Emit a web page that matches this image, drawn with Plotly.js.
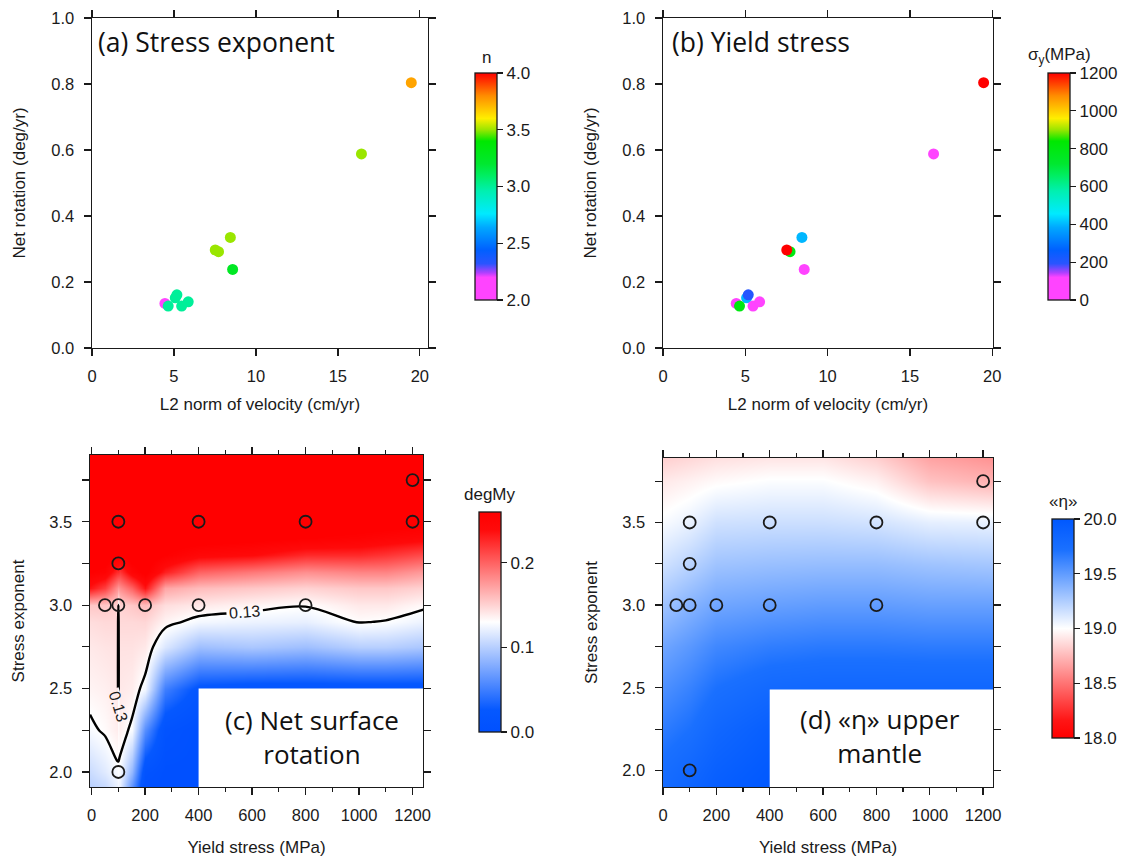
<!DOCTYPE html>
<html>
<head>
<meta charset="utf-8">
<script src="https://cdn.plot.ly/plotly-3.0.1.min.js"></script>
<style>html,body{margin:0;padding:0;background:#fff;}#chart{width:1133px;height:859px;}</style>
</head>
<body>
<div id="chart"></div>
<script>
// ---------- data: simulation runs ----------
const runSigmaY = [400, 100, 800, 50, 100, 200, 100, 800, 1200, 400, 100, 1200];          // yield stress (MPa)
const runN      = [3.0, 2.0, 3.0, 3.0, 3.0, 3.0, 3.25, 3.5, 3.5, 3.5, 3.5, 3.75];         // stress exponent
const runL2     = [5.08, 4.45, 4.65, 5.47, 5.87, 5.18, 8.58, 7.72, 7.52, 8.44, 16.44, 19.48]; // L2 norm of velocity (cm/yr)
const runNetRot = [0.152, 0.135, 0.127, 0.127, 0.140, 0.161, 0.238, 0.292, 0.297, 0.335, 0.588, 0.804]; // net rotation (deg/yr)

// ---------- data: interpolated net surface rotation field (degMy) ----------
const rotGridX = [-6, 50, 95, 100, 105, 150, 200, 275, 400, 600, 800, 1000, 1100, 1240];
const rotGridN = [1.9, 2.0, 2.25, 2.5, 2.75, 2.9, 3.0, 3.1, 3.2, 3.3, 3.4, 3.5, 3.9];
const rotZ = [
  [0.100, 0.105, 0.120, 0.123, 0.118, 0.060, 0.000, 0.000, 0.000, 0.000, 0.000, 0.000, 0.000, 0.000],
  [0.108, 0.117, 0.127, 0.129, 0.126, 0.085, 0.010, 0.000, 0.000, 0.000, 0.000, 0.000, 0.000, 0.000],
  [0.127, 0.132, 0.138, 0.133, 0.137, 0.127, 0.060, 0.010, 0.000, 0.000, 0.000, 0.000, 0.000, 0.000],
  [0.135, 0.137, 0.140, 0.126, 0.140, 0.138, 0.125, 0.050, 0.020, 0.015, 0.015, 0.015, 0.015, 0.015],
  [0.140, 0.142, 0.143, 0.125, 0.143, 0.143, 0.140, 0.115, 0.090, 0.095, 0.090, 0.100, 0.100, 0.095],
  [0.145, 0.147, 0.147, 0.125, 0.147, 0.147, 0.148, 0.135, 0.125, 0.122, 0.120, 0.131, 0.129, 0.122],
  [0.155, 0.155, 0.150, 0.127, 0.150, 0.155, 0.160, 0.145, 0.140, 0.135, 0.131, 0.140, 0.140, 0.133],
  [0.235, 0.215, 0.180, 0.175, 0.180, 0.200, 0.235, 0.170, 0.160, 0.155, 0.150, 0.155, 0.155, 0.150],
  [0.260, 0.255, 0.225, 0.225, 0.220, 0.250, 0.265, 0.230, 0.200, 0.190, 0.180, 0.185, 0.185, 0.175],
  [0.270, 0.270, 0.265, 0.265, 0.260, 0.270, 0.270, 0.260, 0.245, 0.240, 0.225, 0.225, 0.220, 0.210],
  [0.270, 0.270, 0.270, 0.270, 0.270, 0.270, 0.270, 0.270, 0.270, 0.265, 0.260, 0.255, 0.250, 0.245],
  [0.270, 0.270, 0.270, 0.270, 0.270, 0.270, 0.270, 0.270, 0.270, 0.270, 0.270, 0.270, 0.270, 0.265],
  [0.270, 0.270, 0.270, 0.270, 0.270, 0.270, 0.270, 0.270, 0.270, 0.270, 0.270, 0.270, 0.270, 0.270]
];
const rotContourLevel = 0.13;

// ---------- data: interpolated upper-mantle viscosity field (log10) ----------
const etaGridX = [0, 100, 200, 400, 600, 800, 1000, 1240];
const etaGridN = [1.9, 2.0, 2.25, 2.5, 2.75, 3.0, 3.25, 3.5, 3.75, 3.9];
const etaZ = [
  [19.78, 19.85, 19.93, 20.00, 20.00, 20.00, 20.00, 20.00],
  [19.75, 19.82, 19.90, 19.98, 20.00, 20.00, 20.00, 20.00],
  [19.66, 19.72, 19.82, 19.92, 19.95, 19.95, 19.95, 19.95],
  [19.56, 19.63, 19.72, 19.80, 19.82, 19.82, 19.82, 19.82],
  [19.45, 19.52, 19.60, 19.65, 19.67, 19.67, 19.66, 19.66],
  [19.30, 19.38, 19.45, 19.48, 19.50, 19.50, 19.48, 19.48],
  [19.15, 19.22, 19.30, 19.32, 19.33, 19.33, 19.30, 19.28],
  [19.02, 19.07, 19.15, 19.16, 19.16, 19.14, 19.08, 19.07],
  [18.92, 18.95, 18.98, 19.01, 19.01, 18.95, 18.78, 18.72],
  [18.82, 18.85, 18.88, 18.90, 18.90, 18.82, 18.66, 18.60]
];

// ---------- styling ----------
const W = 1133, H = 859;
const px = v => v / W;
const py = v => 1 - v / H;
const FONT = 'Liberation Sans, Arial, Helvetica, sans-serif';
const LABELFONT = 'Open Sans, Liberation Sans, sans-serif';
const INK = '#1a1a1a';

const rainbow = [
  [0.00, '#ff44ff'], [0.10, '#ff44ff'], [0.12, '#b040ff'], [0.16, '#2a55ff'], [0.22, '#0060ff'],
  [0.32, '#00a8ff'], [0.38, '#00eaff'], [0.48, '#00f0b0'], [0.55, '#00ee60'], [0.60, '#00e830'],
  [0.70, '#00e800'], [0.75, '#9ae600'], [0.80, '#ffee00'], [0.90, '#ff8c00'], [1.00, '#ff0000']
];
const blueRed = [[0, '#0050ff'], [0.1, '#0558ff'], [0.5, '#ffffff'], [0.92, '#ff0a0a'], [1, '#ff0000']];
const redBlue = [[0, '#ff0000'], [0.08, '#ff1515'], [0.5, '#ffffff'], [0.86, '#1a70ff'], [1, '#0058ff']];

// colour bars: [left px, top px, bottom px]
const cbA = [475, 73, 300], cbB = [1048, 73, 300], cbC = [479, 512, 732], cbD = [1052, 519, 738];

function cbar(pos, extra) {
  const [x0, top, bottom] = pos;
  return Object.assign({
    x: px(x0), xanchor: 'left', xpad: 0,
    y: py((top + bottom) / 2), yanchor: 'middle', ypad: 0,
    len: (bottom - top) / H, lenmode: 'fraction',
    thickness: 22, thicknessmode: 'pixels',
    outlinewidth: 1.3, outlinecolor: INK,
    ticks: 'outside', ticklen: 6, tickwidth: 1.2, tickcolor: INK,
    tickfont: {family: FONT, size: 17, color: INK}
  }, extra);
}
function cbTitle(text, pos, gap) {
  const [x0, top] = pos;
  return {text: text, xref: 'paper', yref: 'paper', x: px(x0 + 11), y: py(top - gap),
    xanchor: 'center', yanchor: 'bottom', showarrow: false,
    font: {family: FONT, size: 17, color: INK}};
}

const traces = [
  { // (a)
    type: 'scatter', mode: 'markers', x: runL2, y: runNetRot, xaxis: 'x', yaxis: 'y',
    marker: {size: 11, color: runN, cmin: 2, cmax: 4, colorscale: rainbow, showscale: true,
      colorbar: cbar(cbA, {tick0: 2, dtick: 0.5, tickformat: '.1f'})},
    hoverinfo: 'x+y', showlegend: false
  },
  { // (b)
    type: 'scatter', mode: 'markers', x: runL2, y: runNetRot, xaxis: 'x2', yaxis: 'y2',
    marker: {size: 11, color: runSigmaY, cmin: 0, cmax: 1200, colorscale: rainbow, showscale: true,
      colorbar: cbar(cbB, {tick0: 0, dtick: 200})},
    hoverinfo: 'x+y', showlegend: false
  },
  { // (c) field
    type: 'heatmap', x: rotGridX, y: rotGridN, z: rotZ, xaxis: 'x3', yaxis: 'y3',
    zsmooth: 'best', zmin: 0, zmax: 0.26, colorscale: blueRed, showscale: true,
    colorbar: cbar(cbC, {tick0: 0, dtick: 0.1, tickformat: '.1f'})
  },
  { // (c) contour 0.13
    type: 'contour', x: rotGridX, y: rotGridN, z: rotZ, xaxis: 'x3', yaxis: 'y3',
    autocontour: false,
    contours: {start: rotContourLevel, end: rotContourLevel, size: 0.1, coloring: 'lines',
      showlabels: true, labelfont: {family: FONT, size: 16, color: INK}},
    line: {width: 2.4, smoothing: 1.0},
    colorscale: [[0, '#000'], [1, '#000']], showscale: false, hoverinfo: 'skip'
  },
  { // (c) runs
    type: 'scatter', mode: 'markers', x: runSigmaY, y: runN, xaxis: 'x3', yaxis: 'y3',
    marker: {symbol: 'circle-open', size: 12, color: INK, line: {width: 1.8, color: INK}},
    showlegend: false
  },
  { // (d) field
    type: 'heatmap', x: etaGridX, y: etaGridN, z: etaZ, xaxis: 'x4', yaxis: 'y4',
    zsmooth: 'best', zmin: 18, zmax: 20, colorscale: redBlue, showscale: true,
    colorbar: cbar(cbD, {tick0: 18, dtick: 0.5, tickformat: '.1f'})
  },
  { // (d) runs
    type: 'scatter', mode: 'markers', x: runSigmaY, y: runN, xaxis: 'x4', yaxis: 'y4',
    marker: {symbol: 'circle-open', size: 12, color: INK, line: {width: 1.8, color: INK}},
    showlegend: false
  }
];

const axBase = {
  showline: true, linecolor: INK, linewidth: 1.4, mirror: 'allticks',
  ticks: 'outside', ticklen: 7, tickwidth: 1.3, tickcolor: INK,
  showgrid: false, zeroline: false, fixedrange: true,
  tickfont: {family: FONT, size: 16.5, color: INK}
};
function ax(extra) { return Object.assign({}, axBase, extra); }
const tFont = {family: FONT, size: 17, color: INK};

const layout = {
  width: W, height: H,
  margin: {l: 0, r: 0, t: 0, b: 0},
  paper_bgcolor: '#fff', plot_bgcolor: '#fff',
  showlegend: false,
  xaxis:  ax({domain: [px(92), px(428)], range: [0, 20.5], dtick: 5, anchor: 'y',
             ticklabelstandoff: 6, title: {text: 'L2 norm of velocity (cm/yr)', font: tFont, standoff: 14}}),
  yaxis:  ax({domain: [py(348), py(18)], range: [0, 1], dtick: 0.2, tickformat: '.1f', anchor: 'x',
             ticklabelstandoff: 6, title: {text: 'Net rotation (deg/yr)', font: tFont, standoff: 21}}),
  xaxis2: ax({domain: [px(663), px(993)], range: [0, 20.05], dtick: 5, anchor: 'y2',
             ticklabelstandoff: 6, title: {text: 'L2 norm of velocity (cm/yr)', font: tFont, standoff: 14}}),
  yaxis2: ax({domain: [py(348), py(18)], range: [0, 1], dtick: 0.2, tickformat: '.1f', anchor: 'x2',
             ticklabelstandoff: 6, title: {text: 'Net rotation (deg/yr)', font: tFont, standoff: 21}}),
  xaxis3: ax({domain: [px(90), px(423)], range: [-6, 1239], tick0: 0, dtick: 200, anchor: 'y3',
             minor: {dtick: 100, tick0: 0, ticks: 'outside', ticklen: 4, tickwidth: 1.2, tickcolor: INK},
             ticklabelstandoff: 6, title: {text: 'Yield stress (MPa)', font: tFont, standoff: 18}}),
  yaxis3: ax({domain: [py(787), py(455)], range: [1.91, 3.9], tick0: 2, dtick: 0.5, tickformat: '.1f', anchor: 'x3',
             minor: {dtick: 0.25, tick0: 2, ticks: 'outside', ticklen: 7, tickwidth: 1.2, tickcolor: INK},
             ticklabelstandoff: 6, title: {text: 'Stress exponent', font: tFont, standoff: 20}}),
  xaxis4: ax({domain: [px(663), px(993)], range: [0, 1237], tick0: 0, dtick: 200, anchor: 'y4',
             minor: {dtick: 100, tick0: 0, ticks: 'outside', ticklen: 4, tickwidth: 1.2, tickcolor: INK},
             ticklabelstandoff: 6, title: {text: 'Yield stress (MPa)', font: tFont, standoff: 18}}),
  yaxis4: ax({domain: [py(787), py(458)], range: [1.9, 3.89], tick0: 2, dtick: 0.5, tickformat: '.1f', anchor: 'x4',
             minor: {dtick: 0.25, tick0: 2, ticks: 'outside', ticklen: 7, tickwidth: 1.2, tickcolor: INK},
             ticklabelstandoff: 6, title: {text: 'Stress exponent', font: tFont, standoff: 20}}),
  shapes: [
    {type: 'rect', xref: 'x3', yref: 'y3', x0: 400, x1: 1239, y0: 1.91, y1: 2.5,
     fillcolor: '#fff', line: {width: 0}, layer: 'above'},
    {type: 'rect', xref: 'x4', yref: 'y4', x0: 400, x1: 1237, y0: 1.9, y1: 2.49,
     fillcolor: '#fff', line: {width: 0}, layer: 'above'}
  ],
  annotations: [
    {text: '(a) Stress exponent', xref: 'paper', yref: 'paper', x: px(96), y: py(42),
     xanchor: 'left', yanchor: 'middle', showarrow: false, font: {family: LABELFONT, size: 26.5, color: '#111'}},
    {text: '(b) Yield stress', xref: 'paper', yref: 'paper', x: px(670), y: py(42),
     xanchor: 'left', yanchor: 'middle', showarrow: false, font: {family: LABELFONT, size: 26.5, color: '#111'}},
    {text: '(c) Net surface<br>rotation', xref: 'x3', yref: 'y3', x: 824, y: 2.21,
     xanchor: 'center', yanchor: 'middle', showarrow: false, font: {family: LABELFONT, size: 26, color: '#111'}},
    {text: '(d) «η» upper<br>mantle', xref: 'x4', yref: 'y4', x: 814, y: 2.21,
     xanchor: 'center', yanchor: 'middle', showarrow: false, font: {family: LABELFONT, size: 26, color: '#111'}},
    cbTitle('n', cbA, 4),
    cbTitle('σ<sub>y</sub>(MPa)', cbB, 4),
    cbTitle('degMy', cbC, 6),
    cbTitle('«η»', cbD, 6)
  ]
};

Plotly.newPlot('chart', traces, layout, {displayModeBar: false, staticPlot: true});
</script>
</body>
</html>
